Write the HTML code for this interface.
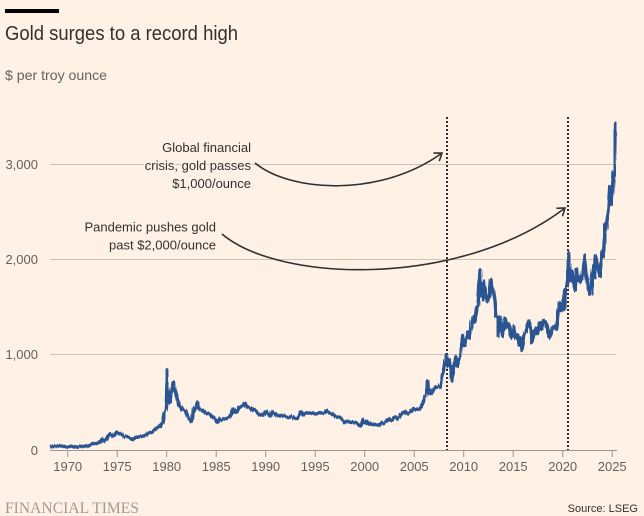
<!DOCTYPE html>
<html><head><meta charset="utf-8"><style>
html,body{margin:0;padding:0;background:#fff1e5;}
svg{display:block;}
.sans{font-family:"Liberation Sans",sans-serif;}
.ann{font-size:13px;fill:#33302e;stroke:#fff1e5;stroke-width:3px;paint-order:stroke;stroke-linejoin:round;}
.yl{font-size:13px;fill:#66605c;}
.xl{font-size:13px;fill:#66605c;text-anchor:middle;}
</style></head><body>
<svg width="644" height="516" viewBox="0 0 644 516" xmlns="http://www.w3.org/2000/svg">
<defs>
<filter id="jit" filterUnits="userSpaceOnUse" x="0" y="0" width="644" height="516">
<feTurbulence type="fractalNoise" baseFrequency="0.7 0.03" numOctaves="2" seed="7" result="n"/>
<feDisplacementMap in="SourceGraphic" in2="n" scale="3.5" xChannelSelector="B" yChannelSelector="R"/>
</filter>
<marker id="ah" markerUnits="userSpaceOnUse" markerWidth="20" markerHeight="20" refX="10" refY="10" orient="auto">
<path d="M3,5 L10,10 L3,15" fill="none" stroke="#33302e" stroke-width="1.6"/>
</marker>
</defs>
<rect width="644" height="516" fill="#fff1e5"/>
<rect x="5" y="9" width="54" height="4" fill="#000"/>
<text class="sans" x="5" y="40" font-size="20" fill="#33302e" textLength="233" lengthAdjust="spacingAndGlyphs">Gold surges to a record high</text>
<text class="sans" x="5" y="80" font-size="14" fill="#66605c" textLength="102" lengthAdjust="spacingAndGlyphs">$ per troy ounce</text>

<g stroke="#cfc3b8" stroke-width="1">
<line x1="50" y1="164.5" x2="616" y2="164.5"/>
<line x1="50" y1="259.5" x2="616" y2="259.5"/>
<line x1="50" y1="354.5" x2="616" y2="354.5"/>
</g>
<g class="yl sans" text-anchor="end">
<text x="38" y="169">3,000</text>
<text x="38" y="264">2,000</text>
<text x="38" y="359">1,000</text>
<text x="38" y="455">0</text>
</g>

<g stroke="#33302e" stroke-width="2" stroke-dasharray="2,2">
<line x1="447" y1="117" x2="447" y2="450"/>
<line x1="568" y1="117" x2="568" y2="450"/>
</g>

<g filter="url(#jit)">
<g transform="translate(67.7,450) scale(9.9,-0.0952) translate(-1970,0)">
<polyline id="gold" fill="none" stroke="#2b5592" stroke-width="3.4" stroke-linejoin="round" vector-effect="non-scaling-stroke" points="
1968.2,39 1968.5,40 1968.8,41 1969.0,43 1969.3,43 1969.6,41 1969.9,36 1970.2,35 1970.5,36 1970.8,37 1971.0,38 1971.3,40 1971.6,42 1971.9,43 1972.2,48 1972.5,62 1972.8,65 1973.0,66 1973.3,90 1973.5,120 1973.7,100 1973.9,110 1974.1,150 1974.3,170 1974.5,145 1974.7,155 1974.95,190 1975.1,178 1975.3,168 1975.5,165 1975.7,142 1975.95,140 1976.2,130 1976.5,118 1976.65,106 1976.9,132 1977.1,135 1977.4,145 1977.7,148 1977.95,162 1978.2,180 1978.5,185 1978.8,215 1978.95,225 1979.2,240 1979.4,255 1979.6,290 1979.75,380 1979.9,420 1979.97,512 1980.02,675 1980.05,845 1980.08,700 1980.15,620 1980.25,520 1980.3,500 1980.4,560 1980.55,640 1980.7,715 1980.75,680 1980.85,625 1981.0,560 1981.2,490 1981.4,450 1981.6,420 1981.8,420 1981.95,398 1982.2,340 1982.45,300 1982.6,330 1982.7,440 1982.8,410 1982.95,450 1983.1,500 1983.15,480 1983.3,430 1983.5,420 1983.7,410 1983.95,385 1984.2,385 1984.4,370 1984.6,345 1984.8,340 1984.95,310 1985.15,290 1985.3,325 1985.5,320 1985.7,325 1985.95,330 1986.2,345 1986.4,340 1986.6,380 1986.75,430 1986.9,395 1987.1,405 1987.3,450 1987.5,455 1987.7,465 1987.9,490 1987.95,484 1988.1,450 1988.3,450 1988.5,440 1988.7,415 1988.9,420 1989.1,400 1989.3,375 1989.5,370 1989.7,360 1989.95,400 1990.1,410 1990.3,370 1990.5,355 1990.65,400 1990.8,385 1990.95,385 1991.2,360 1991.4,365 1991.6,355 1991.8,360 1991.95,355 1992.2,345 1992.4,340 1992.6,355 1992.8,345 1992.95,332 1993.2,330 1993.35,360 1993.55,400 1993.7,370 1993.85,370 1993.95,390 1994.2,385 1994.4,385 1994.6,385 1994.8,390 1994.95,380 1995.2,380 1995.4,390 1995.6,385 1995.8,383 1995.95,388 1996.1,410 1996.3,392 1996.5,385 1996.7,382 1996.9,370 1997.05,350 1997.3,345 1997.5,340 1997.7,325 1997.85,305 1997.95,290 1998.1,300 1998.3,300 1998.5,290 1998.7,290 1998.85,295 1998.95,290 1999.2,285 1999.45,258 1999.6,255 1999.75,300 1999.8,320 1999.95,290 2000.1,285 2000.2,300 2000.35,275 2000.5,285 2000.7,270 2000.9,268 2001.1,265 2001.3,262 2001.45,270 2001.6,265 2001.75,290 2001.9,278 2002.1,295 2002.3,310 2002.45,325 2002.6,310 2002.8,320 2002.95,345 2003.15,350 2003.3,330 2003.5,350 2003.7,380 2003.9,400 2004.1,410 2004.3,385 2004.45,395 2004.7,410 2004.9,440 2005.1,425 2005.3,430 2005.5,425 2005.7,445 2005.9,500 2006.1,560 2006.3,650 2006.38,720 2006.45,600 2006.6,640 2006.75,590 2006.95,630 2007.2,665 2007.4,665 2007.6,670 2007.75,730 2007.85,800 2007.95,830 2008.1,920 2008.2,1000 2008.3,900 2008.45,880 2008.6,950 2008.7,800 2008.8,720 2008.95,860 2009.1,940 2009.2,980 2009.35,880 2009.5,940 2009.7,1000 2009.9,1200 2010.0,1100 2010.15,1100 2010.4,1240 2010.6,1180 2010.8,1350 2010.95,1400 2011.1,1340 2011.3,1500 2011.45,1520 2011.55,1700 2011.65,1890 2011.75,1620 2011.85,1750 2011.95,1580 2012.1,1780 2012.2,1650 2012.4,1560 2012.6,1620 2012.75,1790 2012.9,1700 2013.0,1680 2013.15,1580 2013.3,1400 2013.45,1380 2013.5,1200 2013.65,1400 2013.8,1300 2013.95,1200 2014.15,1380 2014.3,1290 2014.5,1330 2014.6,1300 2014.8,1180 2014.95,1200 2015.05,1300 2015.2,1180 2015.4,1210 2015.55,1100 2015.75,1180 2015.95,1050 2016.1,1200 2016.3,1260 2016.5,1360 2016.6,1330 2016.8,1270 2016.95,1130 2017.1,1230 2017.3,1280 2017.45,1220 2017.7,1340 2017.85,1270 2018.05,1360 2018.3,1330 2018.5,1250 2018.65,1180 2018.85,1230 2019.0,1290 2019.2,1300 2019.35,1270 2019.5,1420 2019.65,1550 2019.85,1460 2020.0,1520 2020.15,1680 2020.2,1480 2020.35,1720 2020.5,1780 2020.6,2067 2020.7,1880 2020.85,1780 2020.95,1880 2021.15,1700 2021.25,1680 2021.4,1900 2021.5,1780 2021.65,1820 2021.8,1760 2021.95,1820 2022.1,1900 2022.2,2050 2022.35,1850 2022.55,1720 2022.7,1640 2022.85,1640 2022.95,1820 2023.1,1930 2023.2,1810 2023.35,2040 2023.45,1950 2023.55,1930 2023.75,1820 2023.9,2000 2023.95,2080 2024.1,2030 2024.2,2200 2024.3,2380 2024.4,2320 2024.5,2430 2024.6,2480 2024.7,2600 2024.8,2770 2024.87,2580 2024.95,2620 2025.05,2800 2025.15,2930 2025.2,2880 2025.25,3100 2025.3,3430 2025.33,3300"/>
</g>
</g>

<line x1="50" y1="450.5" x2="617" y2="450.5" stroke="#a0958c" stroke-width="1"/>
<g stroke="#a0958c" stroke-width="1">
<line x1="67.7" y1="450" x2="67.7" y2="457"/>
<line x1="117.2" y1="450" x2="117.2" y2="457"/>
<line x1="166.7" y1="450" x2="166.7" y2="457"/>
<line x1="216.2" y1="450" x2="216.2" y2="457"/>
<line x1="265.7" y1="450" x2="265.7" y2="457"/>
<line x1="315.2" y1="450" x2="315.2" y2="457"/>
<line x1="364.7" y1="450" x2="364.7" y2="457"/>
<line x1="414.2" y1="450" x2="414.2" y2="457"/>
<line x1="463.7" y1="450" x2="463.7" y2="457"/>
<line x1="513.2" y1="450" x2="513.2" y2="457"/>
<line x1="562.7" y1="450" x2="562.7" y2="457"/>
<line x1="612.2" y1="450" x2="612.2" y2="457"/>
</g>
<g class="xl sans">
<text x="67.7" y="471">1970</text>
<text x="117.2" y="471">1975</text>
<text x="166.7" y="471">1980</text>
<text x="216.2" y="471">1985</text>
<text x="265.7" y="471">1990</text>
<text x="315.2" y="471">1995</text>
<text x="364.7" y="471">2000</text>
<text x="414.2" y="471">2005</text>
<text x="463.7" y="471">2010</text>
<text x="513.2" y="471">2015</text>
<text x="562.7" y="471">2020</text>
<text x="612.2" y="471">2025</text>
</g>

<path d="M255,163 C290,192 380,198 442,153" fill="none" stroke="#33302e" stroke-width="1.6" marker-end="url(#ah)"/>
<path d="M222,234 C280,283 460,288 565,208" fill="none" stroke="#33302e" stroke-width="1.6" marker-end="url(#ah)"/>
<g class="ann sans" text-anchor="end">
<text x="251" y="152">Global financial</text>
<text x="251" y="170">crisis, gold passes</text>
<text x="251" y="188">$1,000/ounce</text>
<text x="216" y="231.5">Pandemic pushes gold</text>
<text x="216" y="249.5">past $2,000/ounce</text>
</g>

<text x="5" y="513" style="font-family:'Liberation Serif',serif;" font-size="16" fill="#a39a91" textLength="134" lengthAdjust="spacingAndGlyphs">FINANCIAL TIMES</text>
<text class="sans" x="638" y="512" font-size="11" fill="#33302e" text-anchor="end">Source: LSEG</text>
</svg>
</body></html>
